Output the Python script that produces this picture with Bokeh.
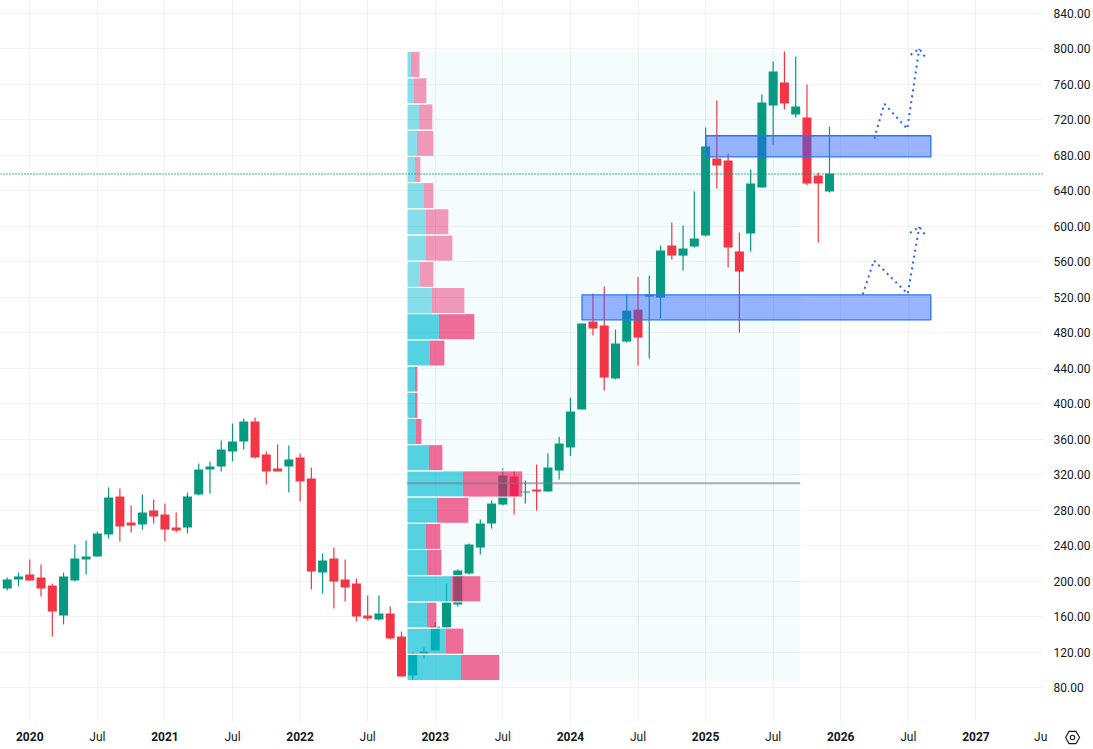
from bokeh.plotting import figure
from bokeh.models import Range1d, FixedTicker, NumeralTickFormatter, Span, LinearAxis, Div
from bokeh.layouts import column
from bokeh.embed import file_html
from bokeh.resources import INLINE

# monthly candles, first one is Oct 2019, x index 0 = Jan 2020
first_bar = -3
opens = [178.4, 191.9, 202.1, 207.7, 204.3, 195.3, 161.5, 200.9, 224.6, 228.0, 252.8, 295.6, 266.3, 264.0, 279.8, 275.3, 260.7,
         260.7, 297.8, 326.0, 329.4, 346.3, 357.6, 380.1, 342.9, 327.1, 329.4, 339.5, 315.9, 210.0, 225.7, 202.1, 197.6,
         161.5, 157.0, 163.8, 137.8, 93.9, 118.6, 122.0, 147.9, 173.8, 208.8, 238.1, 265.1, 286.5, 318.0, 300.0, 303.4,
         301.2, 324.8, 350.8, 393.6, 492.7, 488.2, 428.5, 470.1, 506.2, 520.8, 519.7, 578.3, 567.0, 577.2, 589.6, 676.4,
         674.2, 571.6, 591.9, 643.6, 736.1, 762.0, 726.0, 722.6, 657.2, 639.1]
highs = [191.9, 204.3, 210.0, 224.6, 219.0, 197.6, 210.0, 241.5, 246.0, 256.2, 305.7, 304.6, 285.5, 297.8, 292.2, 287.7, 277.6,
         300.1, 332.8, 335.0, 358.7, 377.9, 383.5, 384.6, 346.3, 354.2, 353.0, 344.0, 328.3, 231.4, 238.1, 224.6, 203.2,
         184.0, 184.0, 171.6, 143.5, 119.8, 125.4, 153.6, 197.5, 213.3, 242.6, 269.6, 291.0, 327.0, 324.8, 313.5, 331.6,
         344.0, 363.0, 407.0, 490.5, 524.3, 532.2, 483.7, 523.1, 543.0, 544.6, 578.3, 604.2, 600.9, 639.3, 711.3, 741.7,
         682.0, 593.0, 663.9, 748.4, 785.7, 796.9, 791.3, 759.8, 660.5, 712.4]
lows = [178.4, 189.7, 194.2, 200.9, 182.9, 137.8, 151.4, 199.8, 207.7, 228.0, 248.3, 244.9, 255.0, 258.4, 265.2, 244.9, 255.0,
        253.9, 296.7, 299.0, 323.8, 335.0, 348.6, 338.4, 309.1, 323.8, 300.1, 290.0, 190.8, 186.3, 169.4, 177.3, 154.7,
        155.9, 155.9, 134.5, 92.8, 88.3, 113.0, 122.0, 147.9, 171.6, 207.7, 230.2, 259.5, 285.4, 275.3, 287.6, 279.8,
        301.2, 314.7, 341.1, 393.6, 476.9, 415.0, 427.4, 469.0, 443.1, 451.0, 496.0, 562.5, 550.2, 576.0, 588.5, 642.6,
        553.6, 480.3, 571.6, 643.6, 692.1, 731.6, 722.6, 645.9, 581.7, 638.0]
closes = [191.9, 202.1, 205.5, 200.9, 191.9, 166.0, 205.5, 225.7, 228.0, 253.9, 294.5, 261.8, 262.9, 277.6, 273.1, 258.4, 257.3,
          295.6, 326.0, 329.4, 348.6, 357.6, 380.1, 339.5, 323.8, 323.8, 337.3, 312.5, 211.1, 223.5, 199.8, 193.1, 160.4,
          158.1, 163.8, 135.6, 92.8, 118.7, 120.9, 149.1, 176.1, 212.1, 241.4, 265.1, 287.6, 319.2, 295.5, 301.2, 301.2,
          328.2, 355.2, 391.3, 490.5, 484.8, 429.6, 467.9, 505.0, 474.6, 523.1, 572.6, 567.0, 575.0, 586.2, 689.9, 668.5,
          576.1, 549.0, 648.2, 739.4, 774.4, 738.4, 735.0, 648.2, 648.2, 659.4]

# volume profile, rows from the top
profile_top = 796.9
profile_row = 29.53
profile_up = [4, 7, 12, 10, 8, 17, 19, 19, 13, 25, 32, 23, 8, 8, 9, 22, 56, 30, 19, 20, 45, 20, 39, 54]
profile_down = [9, 13, 14, 17, 6, 10, 23, 27, 14, 33, 36, 15, 3, 3, 6, 14, 60, 32, 15, 15, 29, 10, 18, 39]
light_rows = 10
profile_start = 33.49
profile_end = 68.4
poc_price = 310.6
last_price = 658.93

zone_left = [60.03, 49.03]
zone_right = [80.0, 80.0]
zone_top = [702.0, 522.7]
zone_bottom = [678.3, 494.6]

path_upper_x = [74.98, 75.87, 77.9, 78.97]
path_upper_y = [698.9, 738.0, 709.8, 800.0]
head_upper_x = [78.2, 78.97, 79.6]
head_upper_y = [793.2, 800.0, 788.7]
path_lower_x = [73.95, 74.95, 77.94, 78.97]
path_lower_y = [523.2, 561.5, 523.9, 599.4]
head_lower_x = [78.15, 78.97, 79.63]
head_lower_y = [592.6, 599.4, 588.1]

price_ticks = list(range(80, 841, 40))
year_ticks = [0, 12, 24, 36, 48, 60, 72, 84]
year_labels = ["2020", "2021", "2022", "2023", "2024", "2025", "2026", "2027"]
jul_ticks = [6, 18, 30, 42, 54, 66, 78]
cut_tick = 89.75

GREEN = "#089981"
RED = "#f23645"
BLUE = "#2962ff"
INK = "#131722"
FONT = "Roboto"
PX = 11.278  # pixels per bar

p = figure(width=1093, height=749, output_backend="svg", toolbar_location=None,
           x_range=Range1d(-2.598, 90), y_range=Range1d(40.9, 854.42),
           y_axis_location="right",
           min_border_left=0, min_border_top=0, min_border_right=49, min_border_bottom=27)
p.outline_line_color = None
p.background_fill_color = "white"

p.xaxis.ticker = FixedTicker(ticks=jul_ticks + [cut_tick])
overrides = {t: "Jul" for t in jul_ticks}
overrides[cut_tick] = "Ju"
p.xaxis.major_label_overrides = overrides
p.yaxis.ticker = FixedTicker(ticks=price_ticks)
p.yaxis.formatter = NumeralTickFormatter(format="0.00")

# years are bold, so they get their own axis pulled up onto the same row
year_axis = LinearAxis(ticker=FixedTicker(ticks=year_ticks),
                       major_label_overrides=dict(zip(year_ticks, year_labels)),
                       major_label_text_font_style="bold")
p.add_layout(year_axis, "below")

for ax in [p.xaxis[0], year_axis, p.yaxis[0]]:
    ax.axis_line_color = None
    ax.major_tick_line_color = None
    ax.minor_tick_line_color = None
    ax.major_tick_in = 0
    ax.major_tick_out = 0
    ax.minor_tick_in = 0
    ax.minor_tick_out = 0
    ax.major_label_text_font = FONT
    ax.major_label_text_font_size = "12px"
    ax.major_label_text_color = INK
p.yaxis.major_label_standoff = 10
p.xaxis[0].major_label_standoff = 7
year_axis.major_label_standoff = -15

p.xgrid.ticker = FixedTicker(ticks=year_ticks + jul_ticks)
p.ygrid.ticker = FixedTicker(ticks=price_ticks)
p.grid.grid_line_color = "#2a2e39"
p.grid.grid_line_alpha = 0.06

# shaded range of the profile
p.quad(left=[profile_start], right=[profile_end], top=[profile_top],
       bottom=[profile_top - profile_row * len(profile_up)], fill_color="#00bcd4", fill_alpha=0.045, line_color=None)

# candles
bars = list(range(first_bar, first_bar + len(opens)))
colors = [GREEN if c >= o else RED for o, c in zip(opens, closes)]
p.segment(bars, highs, bars, lows, line_color=colors, line_width=1.2)
p.vbar(x=bars, width=0.8, top=[max(o, c) for o, c in zip(opens, closes)],
       bottom=[min(o, c) for o, c in zip(opens, closes)], fill_color=colors, line_color=None)

# profile rows
row_mid = [profile_top - profile_row * (i + 0.5) for i in range(len(profile_up))]
alphas = [0.45 if i < light_rows else 0.65 for i in range(len(profile_up))]
up_end = [profile_start + u / PX for u in profile_up]
down_end = [e + d / PX for e, d in zip(up_end, profile_down)]
p.hbar(y=row_mid, height=profile_row, left=profile_start, right=up_end, fill_color="#00bbd4",
       fill_alpha=alphas, line_color=None)
p.hbar(y=row_mid, height=profile_row, left=up_end, right=down_end, fill_color="#e91e63",
       fill_alpha=alphas, line_color=None)
p.hbar(y=row_mid, height=profile_row, left=profile_start, right=down_end, fill_color=None,
       line_color="white", line_width=1)
p.line([profile_start, profile_end], [poc_price, poc_price], line_color="#787b86", line_alpha=0.6, line_width=2)

p.add_layout(Span(location=last_price, dimension="width", line_color=GREEN, line_width=1.5, line_dash="1 2"))

# drawn zones
p.quad(left=zone_left, right=zone_right, top=zone_top, bottom=zone_bottom, fill_color=BLUE, fill_alpha=0.47,
       line_color="#2b76f0", line_width=1.3)

for xs, ys in [(path_upper_x, path_upper_y), (head_upper_x, head_upper_y),
               (path_lower_x, path_lower_y), (head_lower_x, head_lower_y)]:
    p.line(xs, ys, line_color=BLUE, line_width=2, line_dash="2 4")

# settings icon in the corner, sits over the bottom of the figure
icon = Div(width=16, height=16, margin=(-19, 0, 0, 1065),
           text='<svg width="16" height="16" viewBox="0 0 16 16" style="display:block">'
                '<path d="M0.6 7.5 L4 1.4 H11 L14.6 7.5 L11 13.6 H4 Z" fill="none" stroke="#131722" stroke-width="1.1"/>'
                '<circle cx="7.5" cy="7.5" r="2.2" fill="none" stroke="#131722" stroke-width="1.1"/></svg>')

open("out.html", "w").write(file_html(column(p, icon), INLINE))
